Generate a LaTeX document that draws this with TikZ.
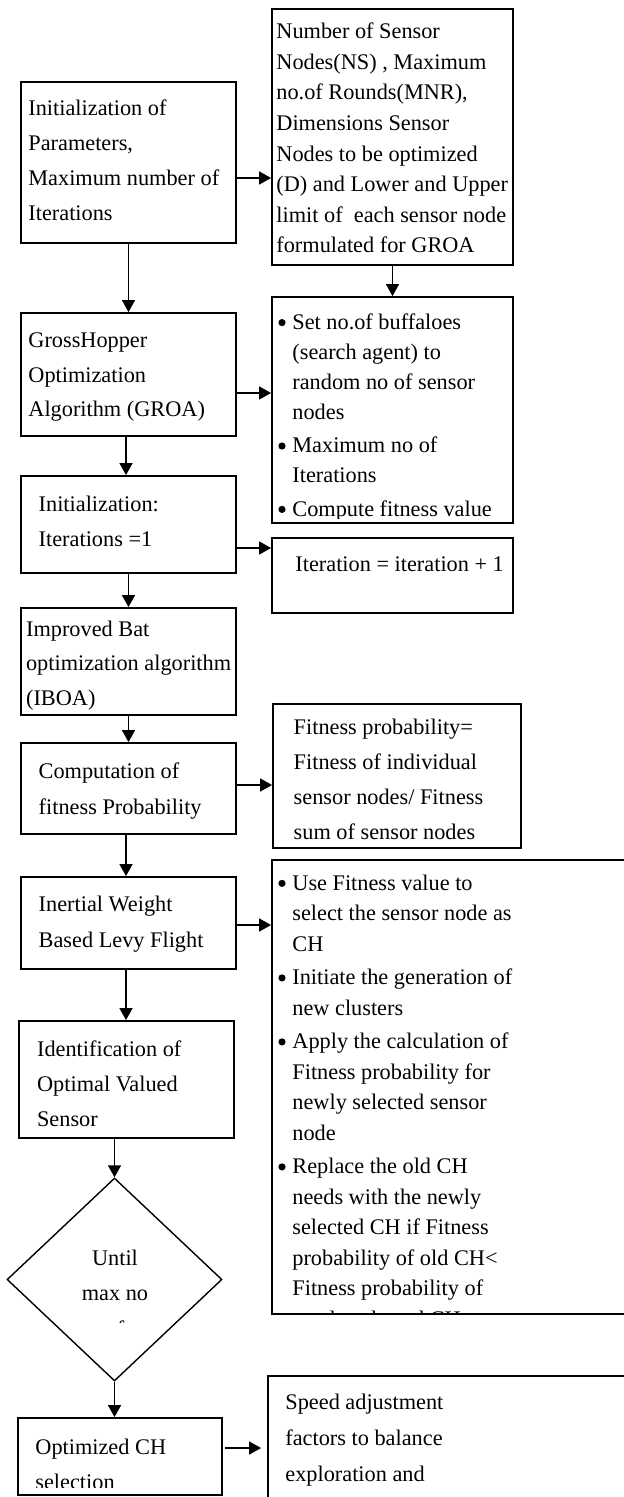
\documentclass[tikz,border=0pt]{standalone}
\usepackage{fontspec}
\setmainfont{Liberation Serif}
\usetikzlibrary{arrows.meta,shapes.geometric}
\tikzset{
  box/.style={draw,line width=0.9pt,inner sep=0pt},
  txt/.style={anchor=base west,align=left,inner sep=0pt,font=\fontsize{11.15}{#1}\selectfont},
  txt/.default=17.5,
  arr/.style={-{Triangle[length=6pt,width=6.5pt]},line width=0.7pt}
}
\newcommand{\itm}{\makebox[7pt][l]{\raisebox{1.5pt}{\tikz\fill (0,0) circle (1.8pt);}}}
\newcommand{\hang}{\hspace*{7pt}}
\begin{document}
\begin{tikzpicture}[x=0.5pt,y=-0.5pt]
\useasboundingbox (0,0) rectangle (624,1497);
% left column
\node[box,minimum width=107.5pt,minimum height=80.5pt] (init) at (128.5,162.5) {};
\node[box,minimum width=107.5pt,minimum height=61.5pt] (groa) at (128.5,374.5) {};
\node[box,minimum width=107.5pt,minimum height=48.5pt] (iterinit) at (128.5,524.5) {};
\node[box,minimum width=107.5pt,minimum height=53.5pt] (iboa) at (128.5,661.5) {};
\node[box,minimum width=107.5pt,minimum height=45.5pt] (fitcomp) at (128.5,788.5) {};
\node[box,minimum width=107.5pt,minimum height=46pt] (levy) at (128.5,923) {};
\node[box,minimum width=107.5pt,minimum height=58.5pt] (optsensor) at (126.5,1079.5) {};
\node[diamond,draw,line width=0.7pt,minimum width=107.5pt,minimum height=101.5pt,inner sep=0pt] (until) at (114.5,1279.5) {};
\node[box,minimum width=102pt,minimum height=38.5pt] (optch) at (120,1456.5) {};
% right column
\node[box,minimum width=120.5pt,minimum height=128pt] (params) at (392.5,137) {};
\node[box,minimum width=120.5pt,minimum height=113pt] (groaset) at (392.5,410) {};
\node[box,minimum width=120.5pt,minimum height=37.5pt] (iterinc) at (392.5,575.5) {};
\node[box,minimum width=124pt,minimum height=72pt] (fitprob) at (397,776) {};
\node[box,minimum width=180pt,minimum height=227pt] (chsel) at (452,1087) {};
\node[box,minimum width=182pt,minimum height=67pt] (speed) at (450,1443) {};

% texts, placed by the baseline of their last line
\node[txt=17.5] (initT) at (28,220.7) {Initialization of\\Parameters,\\Maximum number of\\Iterations};
\node[txt=15.3] (paramsT) at (276,253) {Number of Sensor\\Nodes(NS) , Maximum\\no.of Rounds(MNR),\\Dimensions Sensor\\Nodes to be optimized\\(D) and Lower and Upper\\limit of~ each sensor node\\formulated for GROA};
\node[txt=17.25] (groaT) at (28,416.7) {GrossHopper\\Optimization\\Algorithm (GROA)};
\begin{scope}
\clip (272,297) rectangle (513,518.5);
\node[txt=15] (groasetT) at (278,516) {\itm Set no.of buffaloes\\\hang (search agent) to\\\hang random no of sensor\\\hang nodes\\[1.7pt]\itm Maximum no of\\\hang Iterations\\[1.7pt]\itm Compute fitness value};
\end{scope}
\node[txt=17.5] (iterinitT) at (38.3,546.7) {Initialization:\\Iterations =1};
\node[txt] (iterincT) at (295,571) {Iteration = iteration + 1};
\node[txt=17.25] (iboaT) at (25.7,705) {Improved Bat\\optimization algorithm\\(IBOA)};
\node[txt=17.85] (fitcompT) at (38.3,814) {Computation of\\fitness Probability};
\node[txt=17.5] (fitprobT) at (293.3,839.3) {Fitness probability=\\Fitness of individual\\sensor nodes/ Fitness\\sum of sensor nodes};
\node[txt=17.8] (levyT) at (38.3,947.3) {Inertial Weight\\Based Levy Flight};
\begin{scope}
\clip (272,860) rectangle (624,1313);
\node[txt=15.25] (chselT) at (278,1326) {\itm Use Fitness value to\\\hang select the sensor node as\\\hang CH\\[1.5pt]\itm Initiate the generation of\\\hang new clusters\\[1.5pt]\itm Apply the calculation of\\\hang Fitness probability for\\\hang newly selected sensor\\\hang node\\[1.5pt]\itm Replace the old CH\\\hang needs with the newly\\\hang selected CH if Fitness\\\hang probability of old CH<\\\hang Fitness probability of\\\hang newly selected CH};
\end{scope}
\node[txt=17.5] (optsensorT) at (36.7,1126.7) {Identification of\\Optimal Valued\\Sensor};
\begin{scope}
\clip (20,1230) rectangle (210,1322);
\node[txt=17.75,anchor=base,align=center] (untilT) at (115,1336) {Until\\max no\\of};
\end{scope}
\begin{scope}
\clip (18,1418) rectangle (222,1487);
\node[txt=17.8] (optchT) at (35,1489.6) {Optimized CH\\selection};
\end{scope}
\node[txt=18] (speedT) at (285,1481.7) {Speed adjustment\\factors to balance\\exploration and};

% connectors
\draw[arr] ([yshift=-7.75pt]init.east) -- ([yshift=-7.75pt]init.east -| params.west);
\draw[arr] (init.south) -- (groa.north);
\draw[arr] (params.south) -- (groaset.north);
\draw[arr] ([yshift=-9.25pt]groa.east) -- ([yshift=-9.25pt]groa.east -| groaset.west);
\draw[arr] ([xshift=-1.25pt]groa.south) -- ([xshift=-1.25pt]iterinit.north);
\draw[arr] ([yshift=-11.75pt]iterinit.east) -- ([yshift=-11.75pt]iterinit.east -| iterinc.west);
\draw[arr] (iterinit.south) -- (iboa.north);
\draw[arr] (iboa.south) -- (fitcomp.north);
\draw[arr] ([yshift=1.75pt]fitcomp.east) -- ([yshift=1.75pt]fitcomp.east -| fitprob.west);
\draw[arr] ([xshift=-1.25pt]fitcomp.south) -- ([xshift=-1.25pt]levy.north);
\draw[arr] ([yshift=-1pt]levy.east) -- ([yshift=-1pt]levy.east -| chsel.west);
\draw[arr] ([xshift=-1.25pt]levy.south) -- ([xshift=-1.25pt]levy.south |- optsensor.north);
\draw[arr] (optsensor.south -| until.north) -- (until.north);
\draw[arr] (until.south) -- (until.south |- optch.north);
\draw[arr,shorten <=1pt,shorten >=3pt] ([yshift=4.25pt]optch.east) -- ([yshift=4.25pt]optch.east -| speed.west);
\end{tikzpicture}
\end{document}
